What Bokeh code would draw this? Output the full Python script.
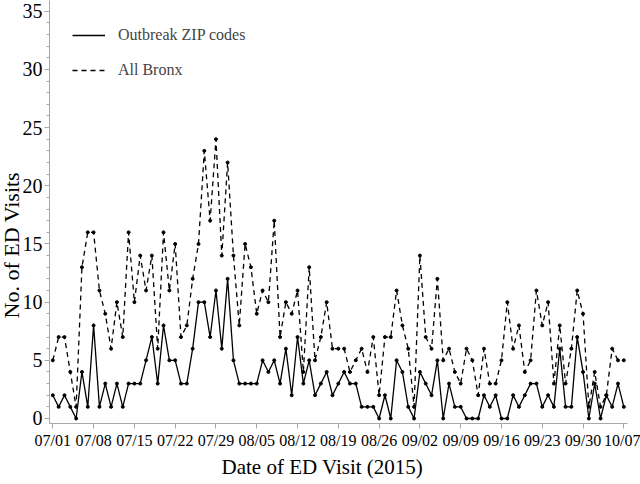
from bokeh.plotting import figure
from bokeh.models import FixedTicker, Legend, LegendItem, Title
from bokeh.embed import file_html
from bokeh.resources import INLINE

# Day index 0 = 07/01/2015 ... 98 = 10/07/2015
days = list(range(99))

all_bronx = [5, 7, 7, 4, 1, 13, 16, 16, 11, 9, 6, 10, 7, 16, 10, 14, 11, 14, 6, 16, 11, 15, 7, 8, 12, 15,
             23, 17, 24, 14, 22, 14, 8, 15, 13, 9, 11, 10, 17, 7,
             10, 9, 11, 4, 13, 5, 7, 10, 6, 6, 6, 4, 5, 6, 4,
             7, 2, 7, 7, 11, 8, 6, 1, 14, 7, 6, 12, 5, 6, 4, 3, 6, 5, 2, 6, 3, 3, 5,
             10, 6, 8, 4, 5, 11, 8, 10, 3, 8, 3, 6, 11, 9, 1, 4, 1, 2, 6, 5, 5]

outbreak_zip = [2, 1, 2, 1, 0, 4, 1, 8, 1, 3, 1, 3, 1, 3, 3, 3, 5, 7, 3, 8, 5, 5, 3, 3, 6, 10,
                10, 7, 11, 6, 12, 5, 3, 3, 3, 3, 5, 4, 5, 3,
                6, 2, 7, 3, 5, 2, 3, 4, 2, 3, 4, 3, 3, 1, 1,
                1, 0, 2, 0, 5, 4, 1, 0, 4, 3, 2, 5, 0, 3, 1, 1, 0, 0, 0, 2, 1, 2, 0,
                0, 2, 1, 2, 3, 3, 1, 2, 1, 6, 1, 1, 7, 4, 0, 3, 0, 2, 1, 3, 1]

tick_days = [0, 7, 14, 21, 28, 35, 42, 49, 56, 63, 70, 77, 84, 91, 98]
tick_labels = ["07/01", "07/08", "07/15", "07/22", "07/29", "08/05", "08/12", "08/19",
               "08/26", "09/02", "09/09", "09/16", "09/23", "09/30", "10/07"]
y_ticks = [0, 5, 10, 15, 20, 25, 30, 35]

FONT = "Liberation Serif"
AXIS_GRAY = "#a8a8a8"

p = figure(width=640, height=484, output_backend="svg", toolbar_location=None,
           x_range=(-0.57, 98.63), y_range=(-0.43, 35.92),
           min_border_left=49, min_border_right=13, min_border_top=0, min_border_bottom=61)
p.outline_line_color = None
p.xgrid.grid_line_color = None
p.ygrid.grid_line_color = None
p.background_fill_color = "white"
p.border_fill_color = "white"

# x axis
p.xaxis.ticker = FixedTicker(ticks=tick_days)
p.xaxis.major_label_overrides = {d: l for d, l in zip(tick_days, tick_labels)}
p.xaxis.major_label_text_font = FONT
p.xaxis.major_label_text_font_size = "16px"
p.xaxis.major_label_text_color = "black"
p.xaxis.axis_line_color = AXIS_GRAY
p.xaxis.major_tick_line_color = AXIS_GRAY
p.xaxis.minor_tick_line_color = None
p.xaxis.major_tick_out = 5
p.xaxis.major_tick_in = 0
p.xaxis.major_label_standoff = 3

# y axis
p.yaxis.ticker = FixedTicker(ticks=y_ticks, minor_ticks=list(range(0, 36)))
p.yaxis.major_label_text_font = FONT
p.yaxis.major_label_text_font_size = "20px"
p.yaxis.major_label_text_color = "black"
p.yaxis.axis_line_color = AXIS_GRAY
p.yaxis.major_tick_line_color = AXIS_GRAY
p.yaxis.minor_tick_line_color = AXIS_GRAY
p.yaxis.major_tick_out = 5
p.yaxis.major_tick_in = 0
p.yaxis.minor_tick_out = 3
p.yaxis.minor_tick_in = 0
p.yaxis.major_label_standoff = 2

# series
l_solid = p.line(days, outbreak_zip, line_color="black", line_width=1.3)
p.scatter(days, outbreak_zip, size=3, color="black")
l_dash = p.line(days, all_bronx, line_color="black", line_width=1.3, line_dash="5 4")
p.scatter(days, all_bronx, size=3, color="black")

legend = Legend(items=[LegendItem(label="Outbreak ZIP codes", renderers=[l_solid]),
                       LegendItem(label="All Bronx", renderers=[l_dash])],
                location=(23, 343), padding=0, margin=0, spacing=15,
                glyph_width=33, glyph_height=20, label_height=20, label_standoff=13,
                label_text_font=FONT, label_text_font_size="16px",
                border_line_color=None, background_fill_alpha=0)
p.add_layout(legend, "center")

# axis titles
p.add_layout(Title(text="Date of ED Visit (2015)", align="left", offset=172, standoff=2,
                   text_font=FONT, text_font_size="21px", text_font_style="normal",
                   text_color="black"), "below")
p.add_layout(Title(text="No. of ED Visits", align="left", offset=105, standoff=-9,
                   text_font=FONT, text_font_size="22px", text_font_style="normal",
                   text_color="black"), "left")

open("out.html", "w").write(file_html(p, INLINE))
